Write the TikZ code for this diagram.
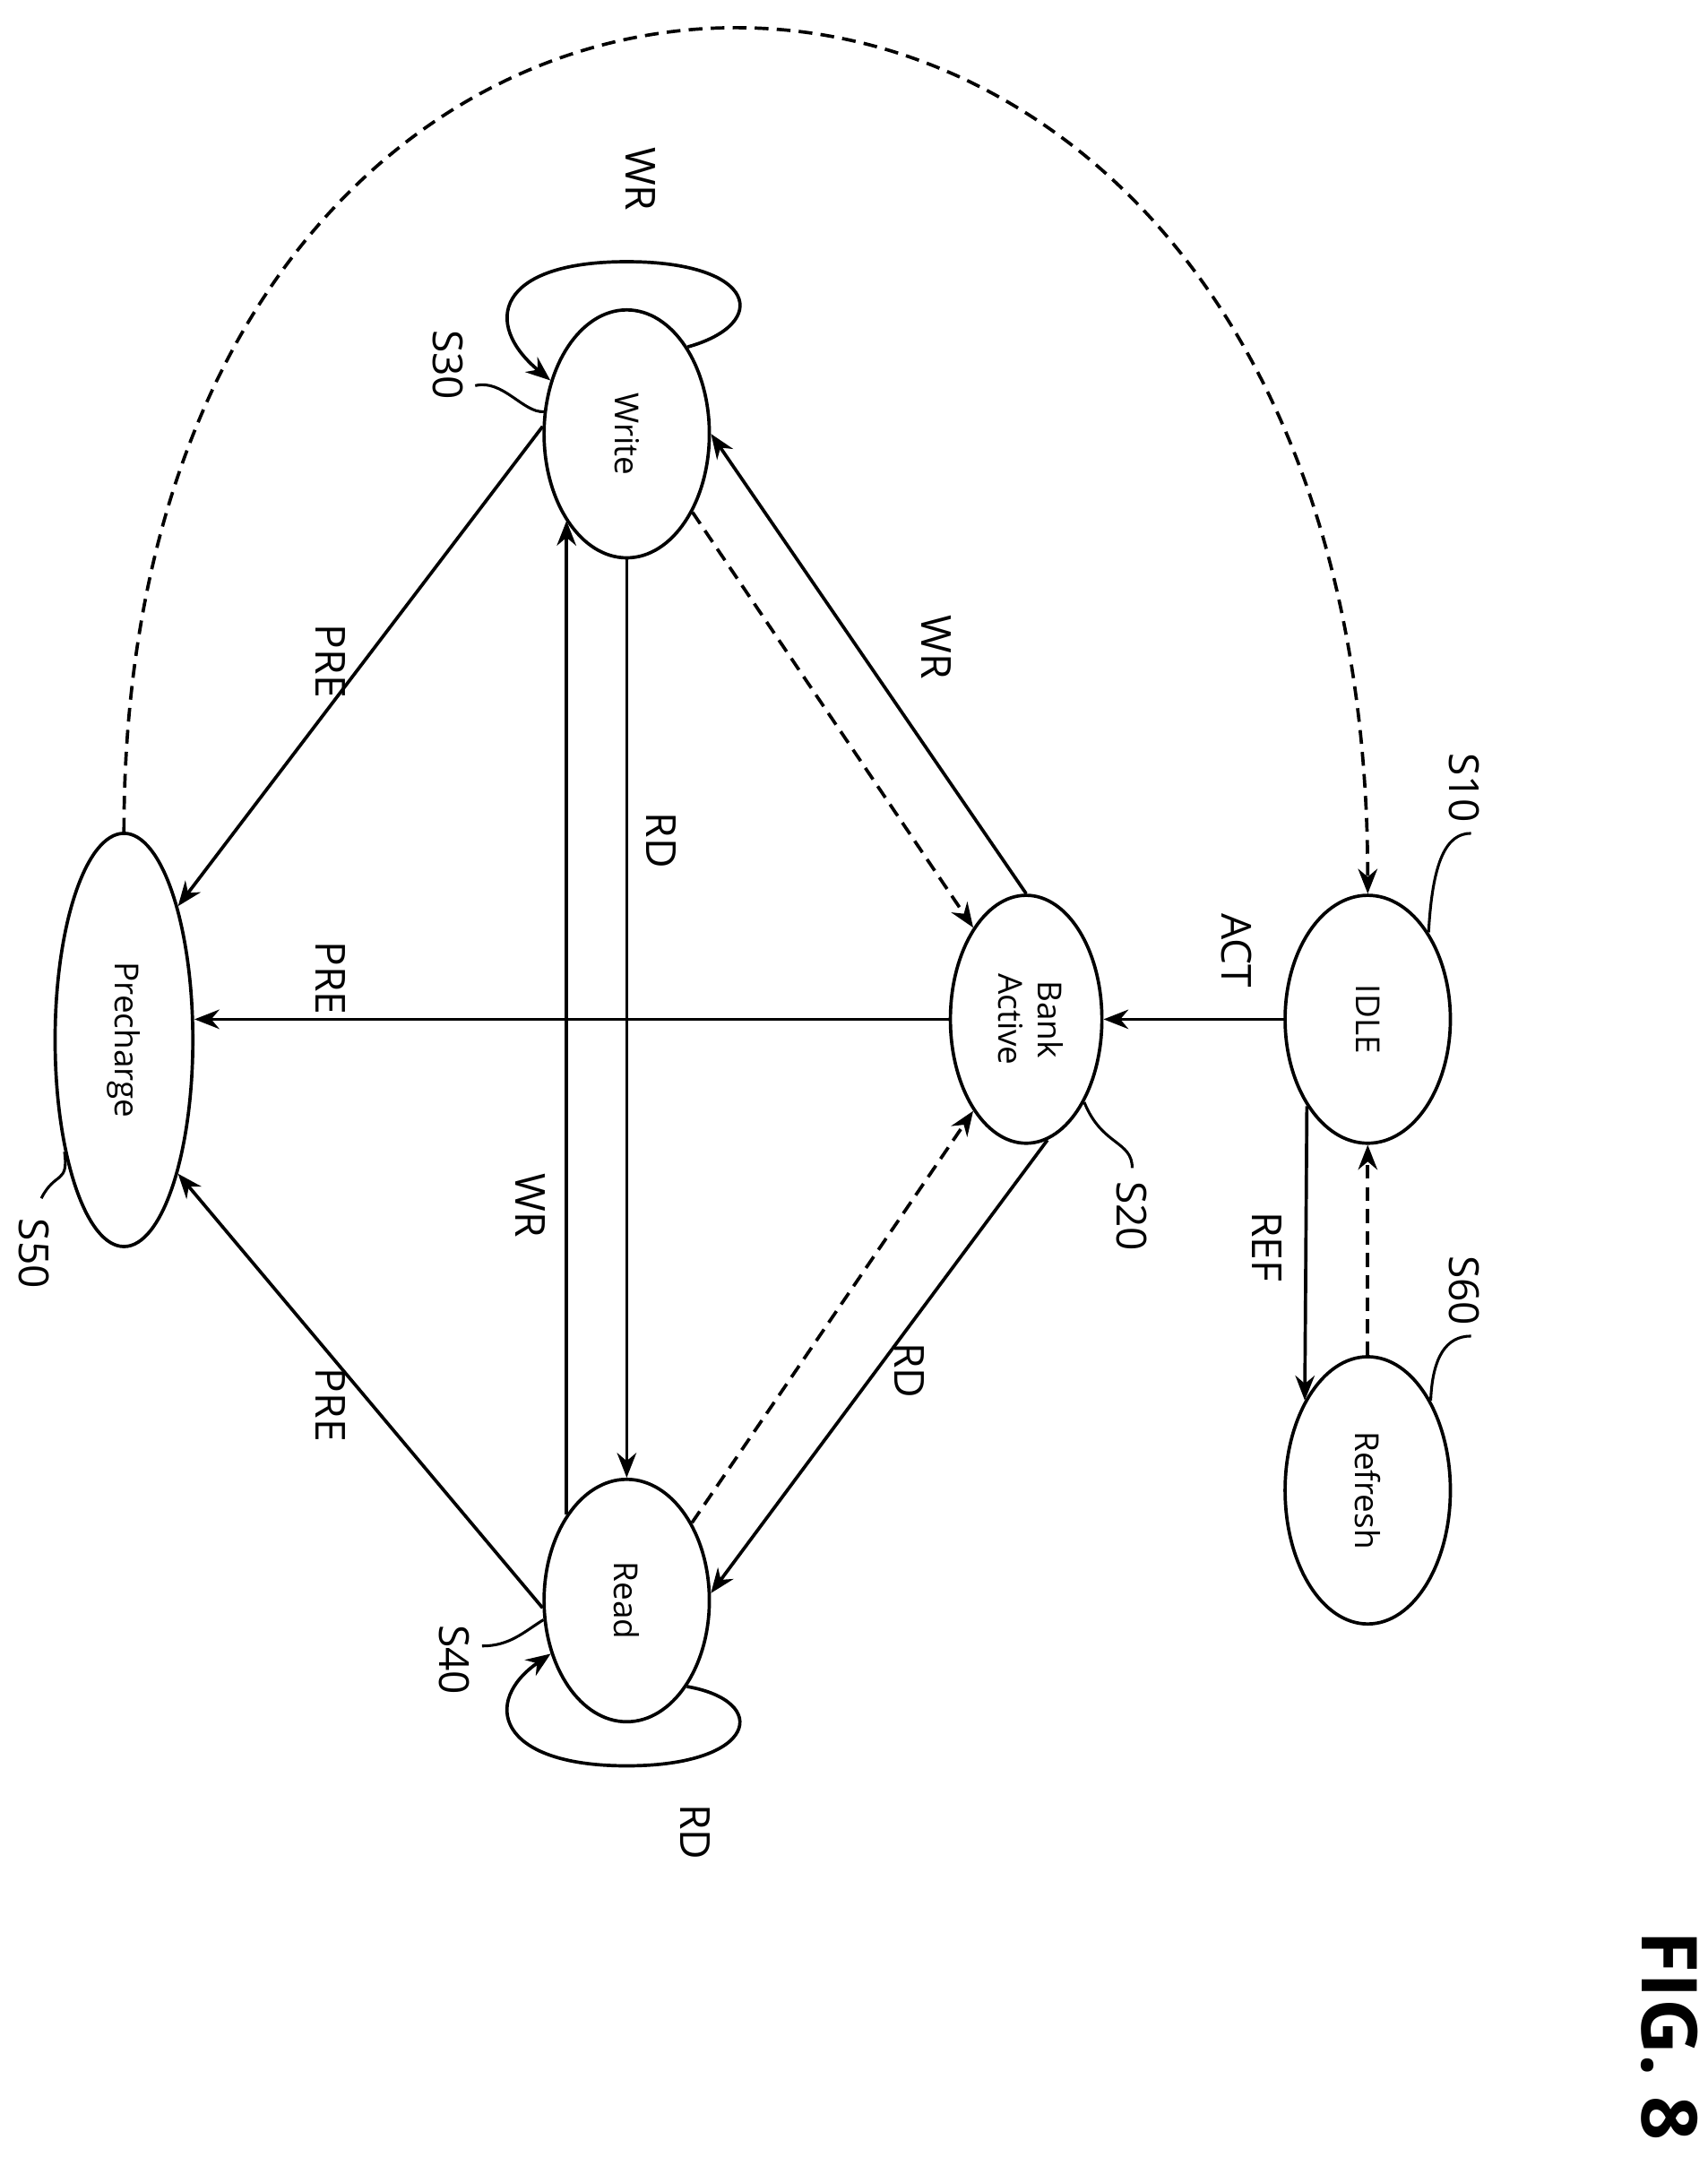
\documentclass[tikz,border=0pt]{standalone}
\usepackage{fontspec}
\setmainfont{Open Sans}
\usetikzlibrary{shapes.geometric,arrows.meta}
\begin{document}
\begin{tikzpicture}[x=0.5pt,y=-0.5pt,
  st/.style={draw,line width=1.2pt,ellipse,inner sep=0pt,font=\fontsize{12}{14}\selectfont},
  lb/.style={font=\fontsize{15}{17}\selectfont,rotate=-90},
  ar/.style={line width=1.2pt,-{Stealth[length=9pt,width=7pt]}},
  da/.style={ar,dashed,dash pattern=on 5pt off 3pt},
  ld/.style={line width=1pt}]
\useasboundingbox (0,0) rectangle (1240,1566);
\node[st,minimum width=60pt,minimum height=90pt] (W) at (455,315) {\rotatebox{-90}{Write}};
\node[st,minimum width=60pt,minimum height=88pt] (R) at (455,1162) {\rotatebox{-90}{Read}};
\node[st,minimum width=55pt,minimum height=90pt] (B) at (745,740) {\rotatebox{-90}{\begin{tabular}{c}Bank\\Active\end{tabular}}};
\node[st,minimum width=60pt,minimum height=90pt] (I) at (993,740) {\rotatebox{-90}{IDLE}};
\node[st,minimum width=60pt,minimum height=97pt] (F) at (993,1082) {\rotatebox{-90}{Refresh}};
\node[st,minimum width=50pt,minimum height=150pt] (P) at (90,755) {\rotatebox{-90}{Precharge}};
% edges
\draw[ar] (I.west) -- (B.east);
\draw[ar] (I.-125) -- (F.125);
\draw[da] (F.north) -- (I.south);
\draw[ar] (B.north) -- (W.east);
\draw[da] (W.-50) -- (B.120);
\draw[ar] (B.-80) -- (R.5);
\draw[da] (R.50) -- (B.-120);
\draw[ar] (W.south) -- (R.north);
\draw[ar] (R.125) -- (R.125 |- W.235);
\draw[ar] (B.west) -- (B.west -| P.east);
\draw[ar] (W.175) -- (P.68);
\draw[ar] (R.185) -- (P.-68);
\draw[da] (P.north) .. controls (90,-180) and (993,-180) .. (I.north);
\draw[ar] (W.55) .. controls (560,235) and (550,190) .. (455,190) .. controls (360,190) and (350,235) .. (W.145);
\draw[ar] (R.-55) .. controls (560,1235) and (550,1282) .. (455,1282) .. controls (360,1282) and (350,1235) .. (R.-145);
% labels
\node[lb] (l1) at (465,130) {WR};
\node[lb] (l2) at (240,480) {PRE};
\node[lb] (l3) at (480,610) {RD};
\node[lb] (l4) at (680,470) {WR};
\node[lb] (l5) at (898,690) {ACT};
\node[lb] (l6) at (240,710) {PRE};
\node[lb] (l7) at (920,905) {REF};
\node[lb] (l8) at (385,875) {WR};
\node[lb] (l9) at (660,995) {RD};
\node[lb] (l10) at (240,1020) {PRE};
\node[lb] (l11) at (505,1330) {RD};
\node[lb] (s10) at (1063,572) {S10};
\node[lb] (s60) at (1063,937) {S60};
\node[lb] (s20) at (822,883) {S20};
\node[lb] (s30) at (325,265) {S30};
\node[lb] (s40) at (330,1205) {S40};
\node[lb] (s50) at (25,910) {S50};
\node[rotate=-90,font=\bfseries\fontsize{28}{30}\selectfont] (fig) at (1212,1478) {FIG. 8};
% leaders
\coordinate (c10) at (1068,605);
\coordinate (c60) at (1068,970);
\coordinate (c20) at (822,848);
\coordinate (c30) at (345,280);
\coordinate (c40) at (350,1195);
\coordinate (c50) at (30,870);
\draw[ld] (c10) .. controls (1050,605) and (1040,625) .. (I.55);
\draw[ld] (c60) .. controls (1050,970) and (1040,985) .. (F.55);
\draw[ld] (c20) .. controls (822,828) and (800,832) .. (B.-55);
\draw[ld] (c30) .. controls (365,275) and (380,300) .. (W.165);
\draw[ld] (c40) .. controls (370,1195) and (380,1185) .. (R.193);
\draw[ld] (c50) .. controls (40,850) and (50,860) .. (P.-118);
\end{tikzpicture}
\end{document}
